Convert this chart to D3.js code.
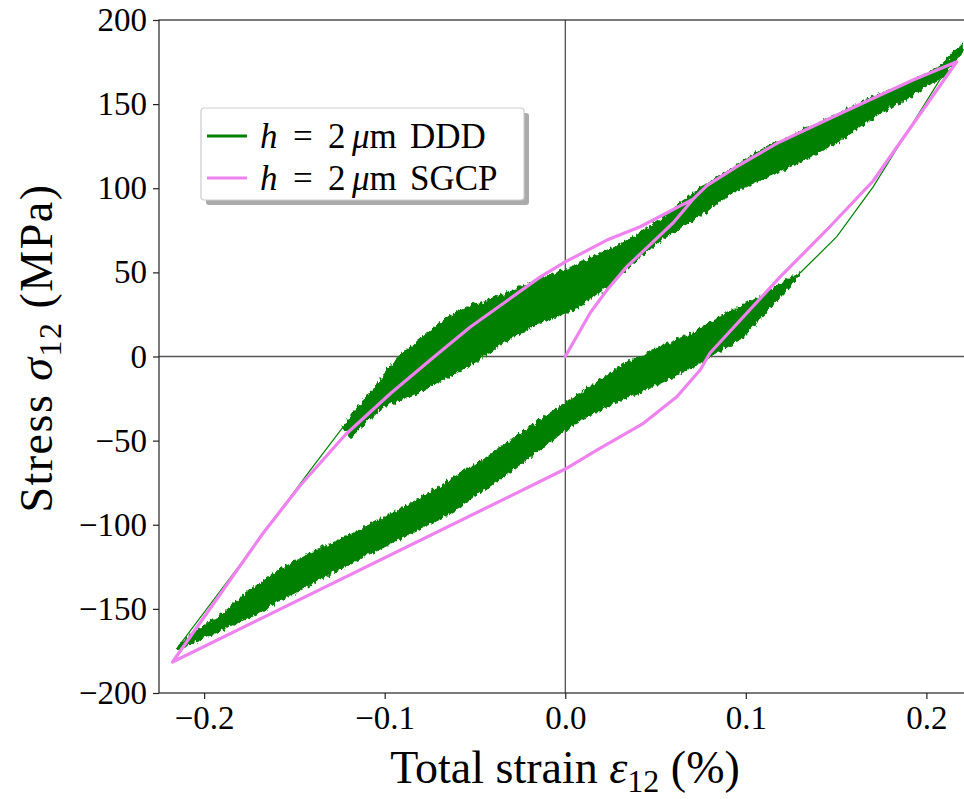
<!DOCTYPE html>
<html>
<head>
<meta charset="utf-8">
<script src="https://cdn.jsdelivr.net/npm/d3@7"></script>
<style>
  body { margin: 0; background: #fff; }
  text { font-family: "Liberation Serif", "DejaVu Serif", serif; fill: #000; }
</style>
</head>
<body>
<svg id="chart" width="964" height="799"></svg>
<script>
// tick values
var xTicks = [-0.2, -0.1, 0.0, 0.1, 0.2];
var yTicks = [-200, -150, -100, -50, 0, 50, 100, 150, 200];

// SGCP model loop (strain %, stress MPa)
var sgcpStrain = [0, 0.0138, 0.0231, 0.0341, 0.047, 0.0598, 0.0708, 0.0784, 0.095, 0.1172, 0.1485, 0.1706, 0.1926, 0.2168,
    0.1705, 0.1448, 0.119, 0.0802, 0.0747, 0.0618, 0.0433, 0.0175, 0, -0.2175,
    -0.1965, -0.1677, -0.1467, -0.1218, -0.0968, -0.0736, -0.0526, -0.0332, -0.0138, 0, 0.0231, 0.0415, 0.0708];
var sgcpStress = [0, 25.9, 39.5, 53.4, 66.5, 79.5, 93.5, 101.5, 112.8, 126.7, 142.5, 153.5, 164.3, 175.2,
    104.3, 75.2, 47.3, 2.1, -8.0, -23.9, -39.7, -55.6, -66.9, -181.6,
    -149.5, -105.5, -76.5, -46.5, -22.0, -1.0, 17.5, 32.4, 47.3, 56.2, 69.2, 77.1, 93.5];

// DDD reloading branch: thin elastic part, then upper / lower edge of the noisy band
var dddReloadThin = [[-0.2149, -173.3], [-0.1781, -120.8], [-0.1411, -67.4], [-0.1229, -41.7]];
var dddReloadUpper = [[-0.1229, -41.7], [-0.119, -35.8], [-0.1024, -14.0], [-0.0931, -1.0], [-0.0841, 7.0], [-0.0655, 23.0],
    [-0.0526, 30.0], [-0.0378, 35.5], [-0.0194, 43.5], [0.0044, 53.5], [0.0321, 67.5], [0.0526, 81.1],
    [0.0708, 97.2], [0.093, 112.0], [0.1116, 124.7], [0.13, 133.4], [0.1483, 142.5], [0.1704, 154.4], [0.1854, 160.4],
    [0.2075, 172.2], [0.2203, 186.3]];
var dddReloadLower = [[-0.1229, -42.5], [-0.119, -47.8], [-0.1007, -29.7], [-0.0786, -19.9], [-0.0544, -6.2], [-0.036, 6.8],
    [-0.0138, 20.5], [0.0044, 27.5], [0.0231, 41.3], [0.0376, 55.6], [0.0507, 67.5], [0.0747, 84.1], [0.093, 97.8],
    [0.1112, 106.7], [0.13, 115.6], [0.1522, 128.5], [0.1743, 144.7], [0.1926, 155.4], [0.2103, 167.3], [0.2203, 182.2]];

// DDD unloading branch
var dddUnloadThin = [[0.2166, 174.4], [0.2075, 164.6], [0.1704, 100.7], [0.1504, 71.2], [0.13, 49.6]];
var dddUnloadUpper = [[0.13, 49.6], [0.119, 42.5], [0.1079, 35.4], [0.0897, 25.9], [0.0708, 14.0], [0.0526, 5.7], [0.0343, -3.3],
    [0.0155, -16.9], [0, -27.6], [-0.0138, -37.7], [-0.0271, -47.8], [-0.0454, -61.5], [-0.0636, -73.4], [-0.0819, -85.3],
    [-0.1007, -96.0], [-0.119, -106.1], [-0.1372, -115.0], [-0.1561, -125.7], [-0.1743, -138.7], [-0.1926, -155.4],
    [-0.2059, -164.3], [-0.2147, -173.3]];
var dddUnloadLower = [[0.13, 48.4], [0.119, 35.4], [0.0985, 11.6], [0.0802, -0.3], [0.0708, -6.2], [0.0526, -15.8], [0.0343, -24.1],
    [0.0155, -33.6], [0, -43.7], [-0.0267, -65.7], [-0.0636, -93.1], [-0.1007, -113.3], [-0.1374, -132.9], [-0.1743, -154.9],
    [-0.1965, -165.6], [-0.2114, -172.7], [-0.2147, -174.5]];

var seriesNames = ["DDD", "SGCP"];
var seriesColors = ["green", "violet"];

var svg = d3.select("#chart"),
    m = { left: 159, right: 967, top: 20, bottom: 693 };

var x = d3.scaleLinear().domain([-0.225, 0.2225]).range([m.left, m.right]);
var y = d3.scaleLinear().domain([-200, 200]).range([m.bottom, m.top]);

var defs = svg.append("defs");
defs.append("clipPath").attr("id", "clip")
    .append("rect").attr("x", m.left).attr("y", m.top).attr("width", m.right - m.left).attr("height", m.bottom - m.top);
// ragged edge for the serrated DDD band
var rough = defs.append("filter").attr("id", "rough").attr("x", "-5%").attr("y", "-5%").attr("width", "110%").attr("height", "110%");
rough.append("feTurbulence").attr("type", "fractalNoise").attr("baseFrequency", "0.35 0.12").attr("numOctaves", 2).attr("seed", 3).attr("result", "n");
rough.append("feDisplacementMap").attr("in", "SourceGraphic").attr("in2", "n").attr("scale", 7)
    .attr("xChannelSelector", "R").attr("yChannelSelector", "G");

var plot = svg.append("g").attr("clip-path", "url(#clip)");

// zero lines
plot.append("line").attr("x1", x(0)).attr("x2", x(0)).attr("y1", m.top).attr("y2", m.bottom)
    .attr("stroke", "#000").attr("stroke-width", 0.9);
plot.append("line").attr("x1", m.left).attr("x2", m.right).attr("y1", y(0)).attr("y2", y(0))
    .attr("stroke", "#555").attr("stroke-width", 1.3);

var line = d3.line().x(d => x(d[0])).y(d => y(d[1]));
var band = d3.line().x(d => x(d[0])).y(d => y(d[1])).curve(d3.curveLinearClosed);

// DDD bands
var ddd = plot.append("g");
[[dddReloadUpper, dddReloadLower], [dddUnloadUpper, dddUnloadLower]].forEach(function (b) {
    ddd.append("path")
        .attr("d", band(b[0].concat(b[1].slice().reverse())))
        .attr("fill", seriesColors[0]).attr("stroke", seriesColors[0]).attr("stroke-width", 1.5)
        .attr("filter", "url(#rough)");
});
[dddReloadThin, dddUnloadThin].forEach(function (t) {
    ddd.append("path").attr("d", line(t))
        .attr("fill", "none").attr("stroke", seriesColors[0]).attr("stroke-width", 1.2);
});

// SGCP
plot.append("path")
    .attr("d", line(sgcpStrain.map((s, i) => [s, sgcpStress[i]])))
    .attr("fill", "none").attr("stroke", seriesColors[1]).attr("stroke-width", 3.2)
    .attr("stroke-linejoin", "round").attr("stroke-linecap", "round");

// axes
var xAxis = d3.axisBottom(x).tickValues(xTicks).tickSize(6).tickPadding(7)
    .tickFormat(d => d3.format(".1f")(d).replace("-", "\u2212"));
var yAxis = d3.axisLeft(y).tickValues(yTicks).tickSize(6).tickPadding(6)
    .tickFormat(d => String(d).replace("-", "\u2212"));

var gx = svg.append("g").attr("transform", "translate(0," + m.bottom + ")").call(xAxis);
var gy = svg.append("g").attr("transform", "translate(" + m.left + ",0)").call(yAxis);
[gx, gy].forEach(function (g) {
    g.select(".domain").remove();
    g.selectAll(".tick line").attr("stroke", "#222").attr("stroke-width", 1.2);
    g.selectAll(".tick text").attr("font-size", 33).attr("font-family", "Liberation Serif").attr("fill", "#000");
});

// spines
svg.append("rect").attr("x", m.left).attr("y", m.top).attr("width", m.right - m.left).attr("height", m.bottom - m.top)
    .attr("fill", "none").attr("stroke", "#222").attr("stroke-width", 1.2);

// axis labels
var xl = svg.append("text").attr("x", 565).attr("y", 783).attr("text-anchor", "middle").attr("font-size", 46);
xl.append("tspan").text("Total strain ");
xl.append("tspan").attr("font-style", "italic").text("\u03b5");
xl.append("tspan").attr("font-size", 32).attr("dy", 9).text("12");
xl.append("tspan").attr("dy", -9).text(" (%)");

var yl = svg.append("text").attr("transform", "translate(52,348) rotate(-90)").attr("text-anchor", "middle")
    .attr("font-size", 46).attr("letter-spacing", 1.5);
yl.append("tspan").text("Stress ");
yl.append("tspan").attr("font-style", "italic").text("\u03c3");
yl.append("tspan").attr("font-size", 32).attr("dy", 9).text("12");
yl.append("tspan").attr("dy", -9).text(" (MPa)");

// legend
var lg = svg.append("g").attr("transform", "translate(201,108)");
lg.append("rect").attr("x", 5).attr("y", 5).attr("width", 323).attr("height", 92).attr("rx", 3)
    .attr("fill", "#aaa");
lg.append("rect").attr("x", 0).attr("y", 0).attr("width", 323).attr("height", 92).attr("rx", 3)
    .attr("fill", "#fff").attr("stroke", "#ccc").attr("stroke-width", 1.2);
seriesNames.forEach(function (name, i) {
    var yy = 28 + i * 42;
    lg.append("line").attr("x1", 6).attr("x2", 46).attr("y1", yy).attr("y2", yy)
        .attr("stroke", seriesColors[i]).attr("stroke-width", 3);
    var t = lg.append("text").attr("y", yy + 12).attr("font-size", 35);
    t.append("tspan").attr("x", 59).attr("font-style", "italic").text("h");
    t.append("tspan").attr("x", 92).text("=");
    t.append("tspan").attr("x", 127).text("2");
    t.append("tspan").attr("x", 151).attr("font-style", "italic").text("\u03bc");
    t.append("tspan").text("m");
    t.append("tspan").attr("x", 209).text(name);
});
</script>
</body>
</html>
